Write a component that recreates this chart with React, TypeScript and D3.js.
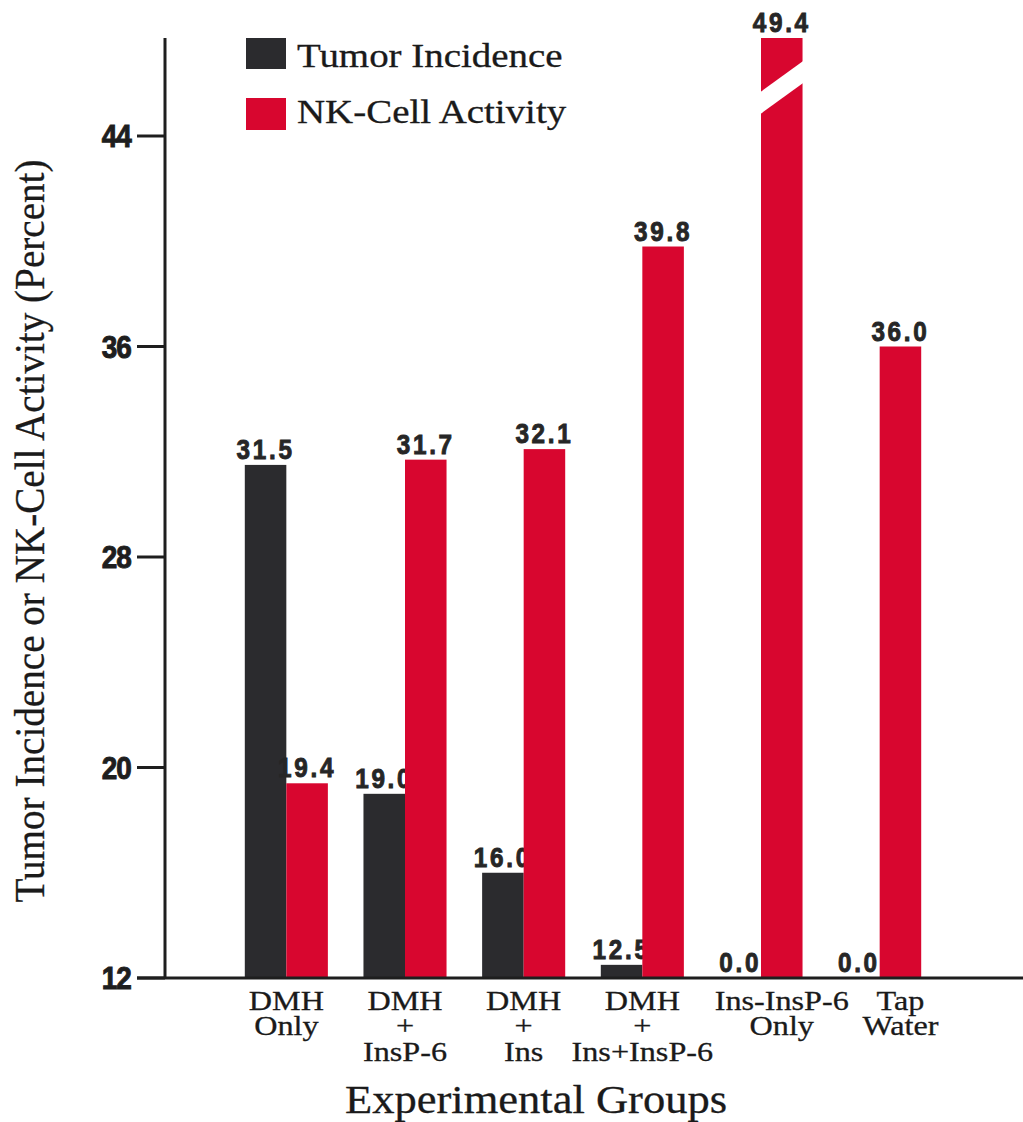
import React from "react";
import * as d3 from "d3";

const categories = ["DMH Only", "DMH + InsP-6", "DMH + Ins", "DMH + Ins+InsP-6", "Ins-InsP-6 Only", "Tap Water"];
const categoryLines = [
  ["DMH", "Only"],
  ["DMH", "+", "InsP-6"],
  ["DMH", "+", "Ins"],
  ["DMH", "+", "Ins+InsP-6"],
  ["Ins-InsP-6", "Only"],
  ["Tap", "Water"],
];
const tumorIncidence = [31.5, 19.0, 16.0, 12.5, 0.0, 0.0];
const nkActivity = [19.4, 31.7, 32.1, 39.8, 49.4, 36.0];
const seriesNames = ["Tumor Incidence", "NK-Cell Activity"];
const seriesColors = ["#2b2b2e", "#d8062f"];
const yTicks = [12, 20, 28, 36, 44];
const yLabel = "Tumor Incidence or NK-Cell Activity (Percent)";
const xLabel = "Experimental Groups";

const W = 1023;
const H = 1122;
const axisX = 165;
const baseY = 978;
const topY = 38;

const SERIF = "'Liberation Serif', 'Times New Roman', serif";
const SANS = "'Liberation Sans', Arial, sans-serif";

function SerifText(props: any) {
  const { x, y, size, anchor = "middle", sx = 1.15, children, rotate = 0, textLength } = props;
  return (
    <text
      transform={`translate(${x},${y}) rotate(${rotate}) scale(${sx},1)`}
      fontFamily={SERIF}
      fontSize={size}
      textAnchor={anchor}
      fill="#1a1a1a"
      stroke="#1a1a1a"
      strokeWidth={0.3}
      textLength={textLength}
      lengthAdjust={textLength ? "spacingAndGlyphs" : undefined}
    >
      {children}
    </text>
  );
}

export default function App() {
  const y = d3.scaleLinear().domain([12, 44]).range([baseY, 136]);
  const x = d3.scaleBand<string>().domain(categories).range([227, 939]).paddingInner(0.3).paddingOuter(0.15);
  const xs = d3.scaleBand<string>().domain(seriesNames).range([0, x.bandwidth()]);
  const series = [tumorIncidence, nkActivity];
  const yMin = y.domain()[0];

  const barTop = (v: number) => Math.max(y(Math.max(v, yMin)), topY);

  return (
    <svg width={W} height={H} style={{ position: "absolute", left: 0, top: 0, background: "#fff" }}>
      <rect x={0} y={0} width={W} height={H} fill="#fff" />
      {/* bars */}
      {categories.map((c, i) =>
        series.map((vals, s) => {
          const v = vals[i];
          const bx = (x(c) as number) + (xs(seriesNames[s]) as number);
          const bw = xs.bandwidth();
          const t = barTop(v);
          const clipped = y(v) < topY;
          return (
            <g key={`${c}-${s}`}>
              <rect x={bx} y={t} width={bw} height={baseY - t} fill={seriesColors[s]} />
              {clipped && (
                <polygon
                  points={`${bx - 2},${topY + 55} ${bx + bw + 2},${topY + 22} ${bx + bw + 2},${topY + 44} ${bx - 2},${topY + 77}`}
                  fill="#fff"
                />
              )}
              <text
                transform={`translate(${bx + bw / 2},${t - 6}) scale(0.9,1)`}
                textAnchor="middle"
                fontFamily={SANS}
                fontWeight="bold"
                fontSize={27}
                letterSpacing={3}
                fill="#262626"
                stroke="#262626"
                strokeWidth={0.9}
              >
                {v.toFixed(1)}
              </text>
            </g>
          );
        })
      )}
      {/* axes */}
      <line x1={axisX} x2={axisX} y1={topY} y2={baseY} stroke="#1e1e1e" strokeWidth={3} />
      <line x1={137} x2={1023} y1={baseY} y2={baseY} stroke="#1e1e1e" strokeWidth={3} />
      {yTicks.map((t) => (
        <g key={t}>
          <line x1={137} x2={axisX} y1={y(t)} y2={y(t)} stroke="#1e1e1e" strokeWidth={3} />
          <text
            transform={`translate(131,${y(t) + 11}) scale(0.9,1)`}
            textAnchor="end"
            fontFamily={SANS}
            fontWeight="bold"
            fontSize={31}
            letterSpacing={-1}
            fill="#1e1e1e"
            stroke="#1e1e1e"
            strokeWidth={1}
          >
            {t}
          </text>
        </g>
      ))}
      {/* category labels */}
      {categories.map((c, i) => {
        const cx =
          tumorIncidence[i] <= 0
            ? (x(c) as number) + (xs(seriesNames[1]) as number) + xs.bandwidth() / 2
            : (x(c) as number) + x.bandwidth() / 2;
        const lineYs = [1010, 1035, 1061];
        return categoryLines[i].map((ln, k) => (
          <SerifText key={`${c}-${k}`} x={cx} y={lineYs[k]} size={28}>
            {ln}
          </SerifText>
        ));
      })}
      {/* axis titles */}
      <SerifText x={536} y={1113} size={39} sx={1} textLength={382}>
        {xLabel}
      </SerifText>
      <SerifText x={44} y={531} size={43} sx={1} rotate={-90} textLength={743}>
        {yLabel}
      </SerifText>
      {/* legend */}
      {seriesNames.map((n, s) => (
        <g key={n}>
          <rect x={246} y={38 + s * 60} width={40} height={31 + s} fill={seriesColors[s]} />
          <SerifText x={297} y={67 + s * 56} size={33} anchor="start" sx={1.18}>
            {n}
          </SerifText>
        </g>
      ))}
    </svg>
  );
}
